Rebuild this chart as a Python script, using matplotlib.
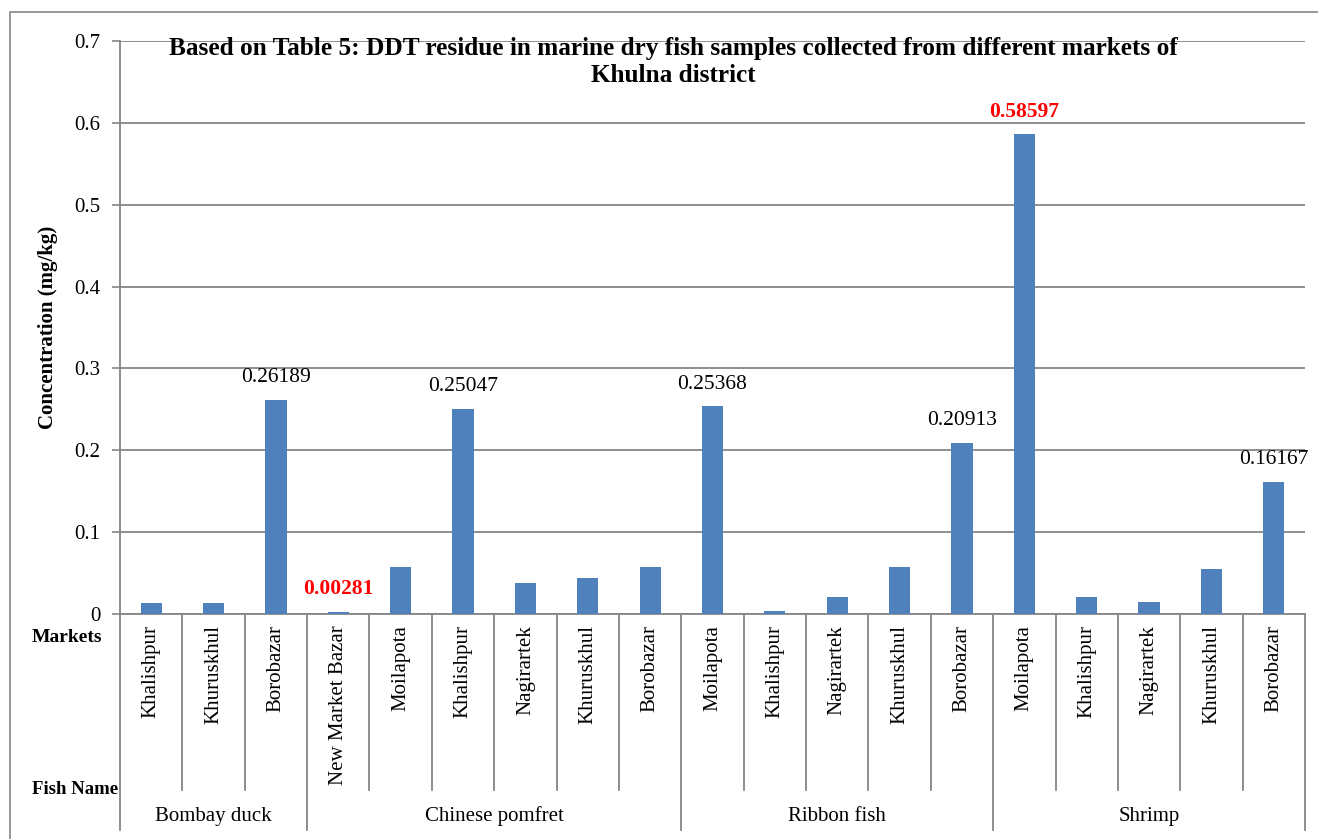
import matplotlib
matplotlib.use("Agg")
import matplotlib.pyplot as plt
import matplotlib.transforms as mtransforms
from matplotlib.patches import Rectangle

plt.rcParams['font.family'] = ['Liberation Serif', 'DejaVu Serif']

fish = ["Bombay duck", "Chinese pomfret", "Ribbon fish", "Shrimp"]
markets = [
    ["Khalishpur", "Khuruskhul", "Borobazar"],
    ["New Market Bazar", "Moilapota", "Khalishpur", "Nagirartek", "Khuruskhul", "Borobazar"],
    ["Moilapota", "Khalishpur", "Nagirartek", "Khuruskhul", "Borobazar"],
    ["Moilapota", "Khalishpur", "Nagirartek", "Khuruskhul", "Borobazar"],
]
ddt = [
    0.0134, 0.0136, 0.26189,
    0.00281, 0.0578, 0.25047, 0.0375, 0.0444, 0.0578,
    0.25368, 0.0033, 0.0204, 0.0574, 0.20913,
    0.58597, 0.0208, 0.0147, 0.0553, 0.16167,
]
labelled = {2: "black", 3: "red", 5: "black", 9: "black", 13: "black", 14: "red", 18: "black"}

W, H = 1318, 839
fig = plt.figure(figsize=(W / 100, H / 100), dpi=100)
ax = fig.add_axes([120 / W, 1 - 614 / H, (1305 - 120) / W, (614 - 41) / H])

grey = "#868686"
x = list(range(len(ddt)))
ax.bar(x, ddt, width=0.34, color="#4F81BD", zorder=3)

ax.set_xlim(-0.5, len(ddt) - 0.5)
ax.set_ylim(0, 0.7)
ax.set_yticks([i / 10 for i in range(8)])
ax.set_yticklabels(["0"] + [f"{i / 10:.1f}" for i in range(1, 8)], fontsize=15)
ax.tick_params(axis="y", length=6, color=grey, width=1.2, pad=8)
ax.set_xticks([])
ax.yaxis.grid(True, color=grey, lw=1.3, zorder=0)
for s in ["top", "right"]:
    ax.spines[s].set_visible(False)
for s in ["left", "bottom"]:
    ax.spines[s].set_color(grey)
    ax.spines[s].set_linewidth(1.3)

ax.set_ylabel("Concentration (mg/kg)", fontsize=15, fontweight="bold")
ax.yaxis.set_label_coords(-0.052, 0.5)

# value labels above selected bars
for i, c in labelled.items():
    bold = "bold" if c == "red" else "normal"
    ax.annotate(f"{ddt[i]:.5f}", (i, ddt[i]), xytext=(0, 9), textcoords="offset points",
                ha="center", va="bottom", fontsize=15.5, color=c, fontweight=bold)

# two-level category axis
trans = mtransforms.blended_transform_factory(ax.transData, ax.transAxes)
short = (790 - 614) / (614 - 41)
long_ = (830 - 614) / (614 - 41)
bounds = [-0.5]
pos = 0
for grp in markets:
    pos += len(grp)
    bounds.append(pos - 0.5)
for b in range(len(ddt) + 1):
    edge = b - 0.5
    depth = long_ if edge in bounds else short
    ax.plot([edge, edge], [0, -depth], transform=trans, color=grey, lw=1.3, clip_on=False)

i = 0
for g, grp in enumerate(markets):
    for m in grp:
        ax.text(i, -0.02, m, transform=trans, rotation=90, ha="center", va="top", fontsize=15)
        i += 1
    mid = (bounds[g] + bounds[g + 1]) / 2
    ax.text(mid, -0.353, fish[g], transform=trans, ha="center", va="center", fontsize=15)

fig.text(67 / W, 1 - 638 / H, "Markets", ha="center", va="center", fontsize=14, fontweight="bold")
fig.text(75 / W, 1 - 789 / H, "Fish Name", ha="center", va="center", fontsize=13.5, fontweight="bold",
         bbox=dict(facecolor="white", edgecolor="none", pad=1))

fig.text(673 / W, 1 - 37 / H,
         "Based on Table 5: DDT residue in marine dry fish samples collected from different markets of\nKhulna district",
         ha="center", va="top", fontsize=18.2, fontweight="bold", linespacing=1.25)

# chart frame
fig.patches.append(Rectangle((10 / W, -0.1), 1.2, 1.1 - 12 / H, transform=fig.transFigure,
                             fill=False, edgecolor=grey, lw=1.2))

fig.savefig("out.png", dpi=100)
